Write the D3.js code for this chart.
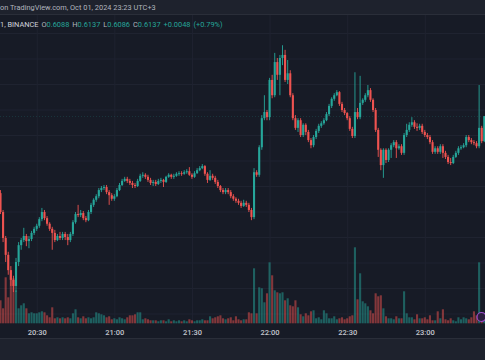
<!DOCTYPE html>
<html><head><meta charset="utf-8">
<script src="https://cdn.jsdelivr.net/npm/d3@7"></script>
<style>html,body{margin:0;padding:0;background:#171b26;overflow:hidden}</style>
</head><body>
<svg id="c" width="485" height="360"></svg>
<script>
// ---- data (1-minute candles, 20:16 .. 23:23, Oct 01 2024) ----
const firstCandle = [2024, 9, 1, 20, 16];
const timeTicks = ["20:30","21:00","21:30","22:00","22:30","23:00"];
const priceGrid = [0.5750,0.5800,0.5850,0.5900,0.5950,0.6000,0.6050,0.6100,0.6150,0.6200,0.6250,0.6300];
const open = [
.5986,.5949,.5898,.5865,.5835,.5816,.5804,.5851,.5884,.5894,
.5902,.5892,.5896,.5908,.5916,.5922,.5935,.5949,.5937,.5926,
.5916,.5908,.5894,.5902,.5898,.5906,.5900,.5894,.5906,.5929,
.5945,.5943,.5947,.5937,.5933,.5949,.5963,.5973,.5980,.5992,
.5996,.5998,.5988,.5982,.5975,.5980,.5992,.6002,.6010,.6014,
.6010,.6006,.6002,.6000,.6010,.6020,.6022,.6018,.6012,.6006,
.6008,.6004,.6010,.6012,.6008,.6018,.6022,.6018,.6020,.6024,
.6025,.6024,.6027,.6029,.6022,.6018,.6025,.6031,.6035,.6039,
.6024,.6012,.6020,.6016,.6008,.6000,.5992,.5988,.5992,.5988,
.5980,.5975,.5971,.5967,.5961,.5967,.5963,.5953,.5939,.6027,
.6022,.6076,.6133,.6145,.6135,.6208,.6178,.6243,.6218,.6251,
.6257,.6208,.6221,.6178,.6133,.6114,.6129,.6100,.6120,.6106,
.6090,.6080,.6096,.6108,.6118,.6123,.6129,.6141,.6157,.6171,
.6178,.6184,.6161,.6149,.6143,.6133,.6112,.6098,.6145,.6135,
.6163,.6169,.6178,.6188,.6169,.6149,.6110,.6071,.6041,.6071,
.6051,.6071,.6080,.6086,.6074,.6078,.6065,.6100,.6110,.6120,
.6125,.6116,.6114,.6118,.6106,.6100,.6096,.6086,.6067,.6074,
.6067,.6078,.6065,.6057,.6047,.6045,.6057,.6065,.6074,.6076,
.6080,.6096,.6090,.6086,.6084,.6078,.6114,.6088];
const high = [
.5992,.5953,.5902,.5871,.5843,.5824,.5859,.5890,.5898,.5918,
.5906,.5902,.5912,.5920,.5926,.5939,.5957,.5953,.5941,.5929,
.5920,.5914,.5906,.5910,.5910,.5910,.5906,.5910,.5933,.5949,
.5963,.5953,.5951,.5941,.5953,.5967,.5976,.5984,.5996,.6000,
.6002,.6002,.5992,.5986,.5984,.5996,.6006,.6014,.6018,.6018,
.6014,.6010,.6006,.6014,.6024,.6027,.6025,.6022,.6016,.6012,
.6012,.6014,.6016,.6014,.6020,.6025,.6024,.6024,.6027,.6029,
.6029,.6031,.6033,.6037,.6025,.6029,.6035,.6039,.6043,.6041,
.6027,.6031,.6024,.6020,.6012,.6002,.5996,.5996,.5996,.5992,
.5984,.5978,.5975,.5971,.5973,.5971,.5967,.5957,.6035,.6031,
.6080,.6139,.6178,.6149,.6212,.6218,.6261,.6251,.6257,.6276,
.6267,.6247,.6227,.6182,.6139,.6133,.6133,.6123,.6123,.6110,
.6094,.6100,.6112,.6122,.6127,.6133,.6145,.6161,.6174,.6182,
.6188,.6186,.6165,.6153,.6145,.6137,.6116,.6223,.6153,.6216,
.6172,.6182,.6198,.6192,.6172,.6153,.6114,.6074,.6074,.6074,
.6074,.6084,.6090,.6090,.6082,.6082,.6104,.6122,.6125,.6135,
.6129,.6123,.6122,.6122,.6110,.6104,.6100,.6090,.6078,.6078,
.6082,.6082,.6069,.6061,.6055,.6061,.6069,.6078,.6080,.6084,
.6100,.6100,.6094,.6090,.6088,.6198,.6118,.6137];
const low = [
.5945,.5890,.5851,.5826,.5804,.5792,.5792,.5843,.5875,.5890,
.5882,.5878,.5892,.5904,.5912,.5918,.5931,.5933,.5922,.5912,
.5875,.5890,.5892,.5894,.5894,.5894,.5884,.5890,.5902,.5926,
.5939,.5939,.5933,.5929,.5931,.5945,.5959,.5969,.5976,.5988,
.5992,.5984,.5963,.5971,.5971,.5978,.5990,.6000,.6008,.6006,
.6002,.5996,.5996,.5998,.6008,.6016,.6014,.6008,.6002,.6000,
.6000,.6002,.6006,.5998,.6006,.6016,.6014,.6014,.6018,.6020,
.6020,.6022,.6024,.6020,.6014,.6016,.6024,.6029,.6033,.6020,
.6006,.6010,.6012,.6004,.5996,.5988,.5984,.5984,.5984,.5976,
.5971,.5967,.5963,.5957,.5959,.5959,.5949,.5933,.5935,.6018,
.6018,.6071,.6129,.6129,.6129,.6172,.6174,.6208,.6178,.6237,
.6204,.6200,.6174,.6129,.6110,.6106,.6096,.6096,.6100,.6086,
.6074,.6076,.6092,.6104,.6114,.6120,.6127,.6137,.6153,.6167,
.6176,.6157,.6145,.6139,.6129,.6108,.6094,.6094,.6131,.6131,
.6159,.6165,.6174,.6165,.6145,.6106,.6057,.6031,.6016,.6045,
.6047,.6055,.6076,.6055,.6071,.6061,.6061,.6096,.6106,.6116,
.6112,.6108,.6110,.6102,.6096,.6092,.6082,.6063,.6063,.6063,
.6063,.6055,.6053,.6043,.6041,.6043,.6055,.6061,.6071,.6074,
.6076,.6086,.6082,.6080,.6074,.6074,.6084,.6086];
const close = [
.5949,.5898,.5865,.5835,.5816,.5804,.5851,.5884,.5894,.5902,
.5892,.5896,.5908,.5916,.5922,.5935,.5949,.5937,.5926,.5916,
.5908,.5894,.5902,.5898,.5906,.5900,.5894,.5906,.5929,.5945,
.5943,.5947,.5937,.5933,.5949,.5963,.5973,.5980,.5992,.5996,
.5998,.5988,.5982,.5975,.5980,.5992,.6002,.6010,.6014,.6010,
.6006,.6002,.6000,.6010,.6020,.6022,.6018,.6012,.6006,.6008,
.6004,.6010,.6012,.6008,.6018,.6022,.6018,.6020,.6024,.6025,
.6024,.6027,.6029,.6022,.6018,.6025,.6031,.6035,.6039,.6024,
.6012,.6020,.6016,.6008,.6000,.5992,.5988,.5992,.5988,.5980,
.5975,.5971,.5967,.5961,.5967,.5963,.5953,.5939,.6027,.6022,
.6076,.6133,.6145,.6135,.6208,.6178,.6243,.6218,.6251,.6257,
.6208,.6221,.6178,.6133,.6114,.6129,.6100,.6120,.6106,.6090,
.6080,.6096,.6108,.6118,.6123,.6129,.6141,.6157,.6171,.6178,
.6184,.6161,.6149,.6143,.6133,.6112,.6098,.6145,.6135,.6163,
.6169,.6178,.6188,.6169,.6149,.6110,.6071,.6041,.6071,.6051,
.6071,.6080,.6086,.6074,.6078,.6065,.6100,.6110,.6120,.6125,
.6116,.6114,.6118,.6106,.6100,.6096,.6086,.6067,.6074,.6067,
.6078,.6065,.6057,.6047,.6045,.6057,.6065,.6074,.6076,.6080,
.6096,.6090,.6086,.6084,.6078,.6114,.6088,.6137];
const volume = [ // thousands
460,300,920,520,1060,900,660,300,360,400,
300,200,220,200,200,220,240,220,160,120,
320,100,120,100,120,100,120,100,200,280,
120,100,140,100,120,100,120,220,200,180,
160,120,140,80,100,80,120,100,80,120,
160,160,180,220,220,80,100,80,60,60,
60,40,60,60,40,80,40,60,40,60,
40,60,40,80,60,40,60,60,80,60,
60,140,100,120,140,160,100,80,100,120,
60,140,80,60,80,80,220,200,1100,200,
720,700,420,600,1220,960,660,620,600,620,
460,500,360,340,460,320,180,140,200,160,
240,260,100,120,80,260,200,100,100,140,
80,100,120,80,100,140,160,1520,480,1000,
440,400,340,260,200,600,540,560,300,140,
100,100,80,140,100,100,640,200,120,120,
80,180,100,100,120,80,160,60,60,240,
100,280,80,60,100,60,40,120,80,120,
100,80,120,240,160,1220,180,160];
const headerTitle = "on TradingView.com, Oct 01, 2024 23:23 UTC+3";
const legendSymbol = "1, BINANCE";
const legendOHLC = [["O","0.6088"],["H","0.6137"],["L","0.6086"],["C","0.6137"]];
const legendChange = ["+0.0048", "(+0.79%)"];

// ---- drawing ----
const W = 485, H = 360;
const UP = "#26a69a", DOWN = "#ef5350";
const svg = d3.select("#c");
const font = "Roboto, 'Noto Sans', sans-serif";

const times = open.map((_, i) => new Date(firstCandle[0], firstCandle[1], firstCandle[2], firstCandle[3], firstCandle[4] + i));
const candles = times.map((t, i) => ({t, o: open[i], h: high[i], l: low[i], c: close[i], v: volume[i]}));

const x = d3.scaleTime().domain([times[0], times[times.length - 1]]).range([0.5, 484.3]);
const y = d3.scaleLinear().domain([0.6000, 0.6150]).range([186, 109.5]);
const yv = d3.scaleLinear().domain([0, 4000]).range([323.3, 123.3]);
const tickDates = timeTicks.map(s => { const [hh, mm] = s.split(":").map(Number); return new Date(2024, 9, 1, hh, mm); });

// backgrounds
svg.append("rect").attr("width", W).attr("height", H).attr("fill", "#171b26");
svg.append("rect").attr("width", W).attr("height", 14).attr("fill", "#1e222d");
svg.append("line").attr("x1", 0).attr("x2", W).attr("y1", 14.5).attr("y2", 14.5).attr("stroke", "#2a2e39");
svg.append("rect").attr("y", 338).attr("width", W).attr("height", 22).attr("fill", "#1e222d");
svg.append("line").attr("x1", 0).attr("x2", W).attr("y1", 338.5).attr("y2", 338.5).attr("stroke", "#2a2e39");

// grid via axes
const gGridY = svg.append("g")
  .call(d3.axisLeft(y).tickValues(priceGrid).tickSize(-W).tickFormat(""));
gGridY.select(".domain").remove();
gGridY.selectAll("line").attr("stroke", "#1f2330").attr("stroke-width", 1);
gGridY.selectAll(".tick").filter(d => y(d) < 15 || y(d) > 323).remove();

const gGridX = svg.append("g").attr("transform", "translate(0,323)")
  .call(d3.axisBottom(x).tickValues(tickDates).tickSize(-308).tickFormat(""));
gGridX.select(".domain").remove();
gGridX.selectAll("line").attr("stroke", "#1f2330");

// volume bars
const bw = 2.1;
svg.append("g").selectAll("rect").data(candles).join("rect")
  .attr("x", d => x(d.t) - bw / 2)
  .attr("width", bw)
  .attr("y", d => yv(d.v))
  .attr("height", d => yv(0) - yv(d.v))
  .attr("fill", d => d.c >= d.o ? UP : DOWN)
  .attr("fill-opacity", 0.5);

// last price dotted line (faint)
const ly = Math.round(y(close[close.length - 1])) + 0.5;
svg.append("line").attr("x1", 0).attr("x2", W).attr("y1", ly).attr("y2", ly)
  .attr("stroke", UP).attr("stroke-opacity", 0.18).attr("stroke-dasharray", "1,2");

// candles
const gc = svg.append("g");
gc.selectAll("line").data(candles).join("line")
  .attr("x1", d => x(d.t)).attr("x2", d => x(d.t))
  .attr("y1", d => y(d.h)).attr("y2", d => y(d.l))
  .attr("stroke", d => d.c >= d.o ? UP : DOWN).attr("stroke-width", 0.9);
gc.selectAll("rect").data(candles).join("rect")
  .attr("x", d => x(d.t) - bw / 2).attr("width", bw)
  .attr("y", d => y(Math.max(d.o, d.c)))
  .attr("height", d => Math.max(0.8, Math.abs(y(d.o) - y(d.c))))
  .attr("fill", d => d.c >= d.o ? UP : DOWN);

// time axis labels
const gAx = svg.append("g").attr("transform", "translate(0,323)")
  .call(d3.axisBottom(x).tickValues(tickDates).tickSize(0).tickPadding(11.5).tickFormat(d3.timeFormat("%H:%M")));
gAx.select(".domain").remove();
gAx.selectAll("text").attr("fill", "#c3c6ce").attr("font-size", "7.5px").attr("font-family", font).attr("font-weight", 500).attr("dy", "0");

// event icon
svg.append("circle").attr("cx", 481.5).attr("cy", 317).attr("r", 4.5)
  .attr("fill", "#2b1d3f").attr("stroke", "#9c4dcc").attr("stroke-width", 1.2);

// header
svg.append("text").attr("x", 0).attr("y", 10.3).attr("font-family", font).attr("font-size", "7.4px")
  .attr("fill", "#b2b5be").text(headerTitle);

// legend: items laid out left to right, spread so the last one ends near x=204
const lgY = 27.2, lgSize = "7.4px", lgEnd = 204, smallGap = 3;
const items = [[[legendSymbol, "#d1d4dc"]]]
  .concat(legendOHLC.map(([k, v]) => [[k, "#b2b5be"], [v, UP]]))
  .concat(legendChange.map(s => [[s, UP]]));
const groups = items.map(parts => {
  const t = svg.append("text").attr("y", lgY).attr("font-family", font).attr("font-size", lgSize);
  parts.forEach(([s, col]) => t.append("tspan").attr("fill", col).text(s));
  return t;
});
const widths = groups.map(g => g.node().getComputedTextLength());
const gap = Math.max(3, (lgEnd - d3.sum(widths) - smallGap) / (groups.length - 2));
let cx = 0;
groups.forEach((g, i) => { g.attr("x", cx); cx += widths[i] + (i === groups.length - 2 ? smallGap : gap); });
</script>
</body></html>
